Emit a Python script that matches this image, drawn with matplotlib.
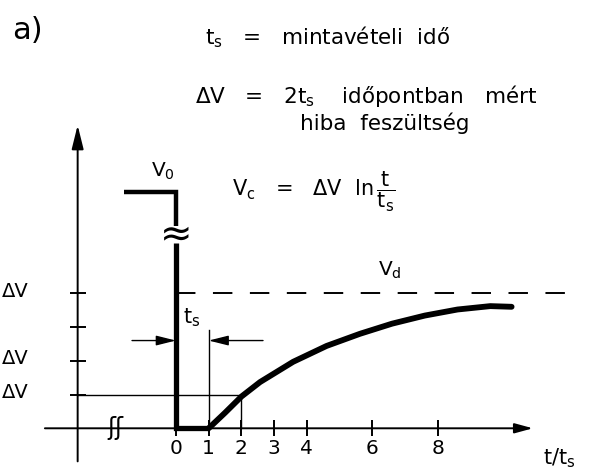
import numpy as np
import matplotlib.pyplot as plt

plt.rcParams['font.family'] = ['DejaVu Sans']
plt.rcParams['mathtext.default'] = 'regular'

# time axis ticks in units of t_s, voltage levels in units of dV
t_ticks = [0, 1, 2, 3, 4, 6, 8]
v_ticks = [1, 2, 3, 4]
v_tick_labels = ["ΔV", "ΔV", "", "ΔV"]

# input step: V0 held before t = 0, drops to zero and stays there for one t_s
v0 = 7.0
vd = 4.0
t_high = [-1.6, 0.0, 0.0]
v_high = [v0, v0, 6.0]
t_low = [0.0, 0.0, 1.0]
v_low = [5.5, 0.0, 0.0]

# capacitor voltage Vc after the sampling time
t_curve = [1.0, 1.5, 2.0, 2.57, 3.58, 4.6, 5.62, 6.6, 7.6, 8.6, 9.6, 10.25]
v_curve = [0.0, 0.46, 0.94, 1.37, 1.97, 2.44, 2.8, 3.1, 3.34, 3.52, 3.62, 3.6]

fig = plt.figure(figsize=(5.9, 4.69), dpi=100)
ax = fig.add_axes([0, 0, 1, 1])
ax.set_xlim(-5.371, 12.644)
ax.set_ylim(-1.206, 12.69)
ax.axis('off')

k = dict(color='k')

# axes with arrow heads
ax.annotate("", xy=(10.9, 0), xytext=(-4.0, 0),
            arrowprops=dict(arrowstyle="-|>,head_length=1.1,head_width=0.3",
                            lw=1.4, shrinkA=0, shrinkB=0, **k))
ax.annotate("", xy=(-3, 8.98), xytext=(-3, -0.98),
            arrowprops=dict(arrowstyle="-|>,head_length=1.45,head_width=0.36",
                            lw=1.4, shrinkA=0, shrinkB=0, **k))
ax.plot(t_ticks, np.zeros(len(t_ticks)), ls='none', marker='|', ms=11.5, mew=1.4, **k)
ax.plot(np.full(len(v_ticks), -3), v_ticks, ls='none', marker='_', ms=12, mew=1.4, **k)

for t in t_ticks:
    ax.text(t, -0.6, str(t), ha='center', va='center', fontsize=14.5)
for v, lab in zip(v_ticks, v_tick_labels):
    ax.text(-5.31, v + 0.06, lab, ha='left', va='center', fontsize=14)
ax.text(11.7, -0.88, "t/t$_s$", ha='center', va='center', fontsize=15)

# axis break marks
ax.text(-1.86, 0, "ʃʃ", ha='center', va='center', fontsize=17)
ax.text(0.02, 5.75, "≈", ha='center', va='center', fontsize=28)

# Vd reference level
ax.plot([0, 11.94], [vd, vd], lw=1.4, dashes=(10, 9), **k)

# helper lines: t_s dimension and dV read at 2 t_s
ax.plot([1, 1], [0, 2.9], lw=1, **k)
ax.plot([-3, t_curve[2], t_curve[2]], [v_ticks[0], v_ticks[0], 0], lw=1, **k)
ax.annotate("", xy=(0, 2.6), xytext=(-1.34, 2.6),
            arrowprops=dict(arrowstyle="-|>,head_length=1.2,head_width=0.3",
                            lw=1, shrinkA=0, shrinkB=0, **k))
ax.annotate("", xy=(1, 2.6), xytext=(2.66, 2.6),
            arrowprops=dict(arrowstyle="-|>,head_length=1.2,head_width=0.3",
                            lw=1, shrinkA=0, shrinkB=0, **k))

# signal
ax.plot(t_high, v_high, lw=3.2, solid_joinstyle='miter', solid_capstyle='butt', **k)
ax.plot(t_low, v_low, lw=3.8, solid_joinstyle='miter', solid_capstyle='butt', **k)
ax.plot(t_curve, v_curve, lw=4.2, solid_capstyle='round', solid_joinstyle='round', **k)

# labels
ax.text(-0.39, 7.6, "V$_0$", ha='center', va='center', fontsize=14.5)
ax.text(6.53, 4.69, "V$_d$", ha='center', va='center', fontsize=14.5)
ax.text(0.49, 3.27, "t$_s$", ha='center', va='center', fontsize=15)
ax.text(1.71, 7.0, r"V$_c$   =   ΔV  ln$\,\dfrac{t}{t_s}$", ha='left', va='center',
        fontsize=15)

ax.text(-4.52, 11.8, "a)", ha='center', va='center', fontsize=22)
ax.text(0.89, 11.59, "t$_s$   =   mintavételi  idő", ha='left', va='center', fontsize=15.5)
ax.text(0.58, 9.85, "ΔV   =   2t$_s$    időpontban   mért", ha='left', va='center',
        fontsize=15.5)
ax.text(3.79, 9.04, "hiba  feszültség", ha='left', va='center', fontsize=15.5)

fig.savefig("out.png", dpi=100)
